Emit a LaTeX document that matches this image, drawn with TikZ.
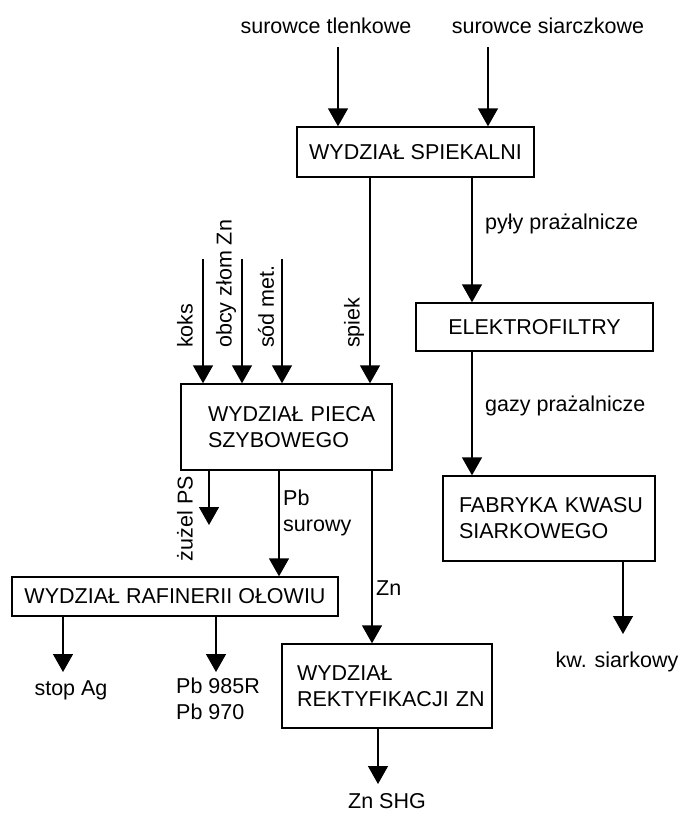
\documentclass[tikz,border=0pt]{standalone}
\usepackage{fontspec}
\setmainfont{Liberation Sans}
\usetikzlibrary{arrows.meta,calc}
\begin{document}
\begin{tikzpicture}[x=1pt,y=-1pt,
  every node/.style={font=\fontsize{21.5}{26}\selectfont, inner sep=0pt},
  box/.style={draw, line width=1.4pt, align=center},
  lbox/.style={draw, line width=1.4pt, align=left, inner xsep=0pt},
  lbl/.style={},
  vlbl/.style={rotate=90},
  arr/.style={line width=1.4pt, -{Triangle[width=20pt,length=18pt]}},
  ln/.style={line width=1.4pt}]
\useasboundingbox (0,0) rectangle (681,814);
% boxes
\node[box, minimum width=237, minimum height=50] (spk) at (415.5,152) {WYDZIAŁ SPIEKALNI};
\node[box, minimum width=237, minimum height=48] (elf) at (534.5,327) {ELEKTROFILTRY};
\node[lbox, text width=212, minimum height=85] (fab) at (549,518.5) {\hspace*{16pt}FABRYKA KWASU\\\hspace*{16pt}SIARKOWEGO};
\node[lbox, text width=211, minimum height=86] (pie) at (286.5,427) {\hspace*{27pt}WYDZIAŁ PIECA\\\hspace*{27pt}SZYBOWEGO};
\node[box, minimum width=326, minimum height=39] (raf) at (175,596.5) {WYDZIAŁ RAFINERII OŁOWIU};
\node[lbox, text width=210, minimum height=84] (rek) at (387,686) {\hspace*{15pt}WYDZIAŁ\\\hspace*{15pt}REKTYFIKACJI ZN};
% labels
\node[lbl] (tle) at (326,26) {surowce tlenkowe};
\node[lbl] (sia) at (548,26) {surowce siarczkowe};
\node[lbl, anchor=west] (pyl) at (485,224) {pyły prażalnicze};
\node[lbl, anchor=west] (gaz) at (485,406) {gazy prażalnicze};
\node[vlbl, anchor=west] (kok) at (185,348) {koks};
\node[vlbl, anchor=west] (obc) at (226,348) {obcy złom Zn};
\node[vlbl, anchor=west] (sod) at (266,348) {sód met.};
\node[vlbl, anchor=west] (spi) at (354,348) {spiek};
\node[vlbl, anchor=east] (zuz) at (185,476) {żużel PS};
\node[lbl, align=left, anchor=west] (pbs) at (283,513) {Pb\\surowy};
\node[lbl, anchor=west] (zn) at (376,588) {Zn};
\node[lbl] (sag) at (71,690) {stop Ag};
\node[lbl, align=left, anchor=west] (pb9) at (176,699) {Pb 985R\\Pb 970};
\node[lbl] (kws) at (617,662) {kw. siarkowy};
\node[lbl] (shg) at (387,801) {Zn SHG};
% free ends
\coordinate (c1) at (338,47);
\coordinate (c2) at (488,47);
\coordinate (ck) at (203,259);
\coordinate (co) at (242,259);
\coordinate (cs) at (282,259);
\coordinate (tz) at (209,525);
\coordinate (ta) at (63,672);
\coordinate (tb) at (216,672);
\coordinate (tk) at (623,634);
\coordinate (ts) at (378,784);
% connectors
\draw[arr] (c1) -- (c1 |- spk.north);
\draw[arr] (c2) -- (c2 |- spk.north);
\draw[arr] (spk.south -| 370,0) -- (370,0 |- pie.north);
\draw[arr] (spk.south -| 472,0) -- (472,0 |- elf.north);
\draw[arr] (elf.south -| 472,0) -- (472,0 |- fab.north);
\draw[arr] (ck) -- (ck |- pie.north);
\draw[arr] (co) -- (co |- pie.north);
\draw[arr] (cs) -- (cs |- pie.north);
\draw[arr] (pie.south -| tz) -- (tz);
\draw[arr] (pie.south -| 279,0) -- (279,0 |- raf.north);
\draw[arr] (pie.south -| 372,0) -- (372,0 |- rek.north);
\draw[arr] (raf.south -| ta) -- (ta);
\draw[arr] (raf.south -| tb) -- (tb);
\draw[arr] (fab.south -| tk) -- (tk);
\draw[arr] (rek.south -| ts) -- (ts);
\end{tikzpicture}
\end{document}
